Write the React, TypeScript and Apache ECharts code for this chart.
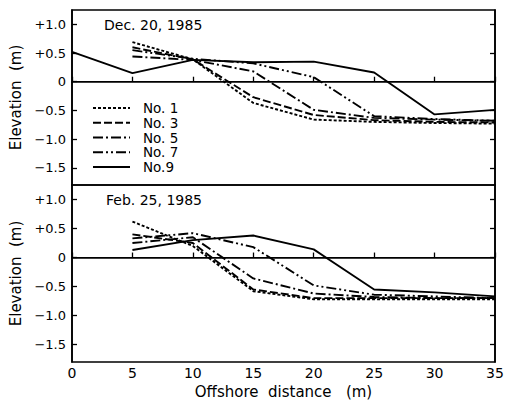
import React, { useEffect, useRef } from "react";
import * as echarts from "echarts";

// Offshore distance (m)
const distFrom0 = [0, 5, 10, 15, 20, 25, 30, 35];
const distFrom5 = [5, 10, 15, 20, 25, 30, 35];

// Dec. 20, 1985 elevations (m)
const decNo1 = [0.69, 0.39, -0.37, -0.66, -0.7, -0.72, -0.73];
const decNo3 = [0.6, 0.39, -0.27, -0.58, -0.67, -0.7, -0.71];
const decNo5 = [0.44, 0.38, 0.18, -0.49, -0.63, -0.66, -0.68];
const decNo7 = [0.55, 0.4, 0.32, 0.08, -0.6, -0.65, -0.68];
const decNo9 = [0.52, 0.15, 0.38, 0.34, 0.35, 0.16, -0.57, -0.49];

// Feb. 25, 1985 elevations (m)
const febNo1 = [0.62, 0.2, -0.58, -0.72, -0.72, -0.72, -0.72];
const febNo3 = [0.4, 0.25, -0.55, -0.7, -0.7, -0.7, -0.7];
const febNo5 = [0.25, 0.35, -0.36, -0.62, -0.68, -0.7, -0.7];
const febNo7 = [0.33, 0.42, 0.18, -0.48, -0.64, -0.67, -0.7];
const febNo9 = [0.13, 0.3, 0.38, 0.14, -0.55, -0.6, -0.67];

const seriesNames = ["No. 1", "No. 3", "No. 5", "No. 7", "No.9"];
const dashTypes: any[] = [
  [3, 2],
  [8, 3],
  [10, 3, 2, 3],
  [10, 3, 2, 3, 2, 3],
  "solid",
];
const yTicks = [-1.5, -1, -0.5, 0, 0.5, 1];
const panelTitles = ["Dec. 20, 1985", "Feb. 25, 1985"];

const FONT = "DejaVu Sans";

function zip(xs: number[], ys: number[]) {
  return ys.map((y, i) => [xs[i], y]);
}

function fmtY(v: number) {
  if (Math.abs(v) < 1e-9) return "0";
  const s = Math.abs(v).toFixed(1);
  return v > 0 ? "+" + s : "\u2212" + s;
}

export default function App() {
  const ref = useRef<HTMLDivElement>(null);
  useEffect(() => {
    if (!ref.current) return;
    const chart = echarts.init(ref.current, null, { renderer: "svg" });

    const tickStyle = { inside: true, length: 5, lineStyle: { color: "#000", width: 1.3 } };
    const axisLine = { show: true, lineStyle: { color: "#000", width: 1.6 } };
    const labelStyle = { color: "#000", fontFamily: FONT, fontSize: 13 };

    const yAxisLeft = (gridIndex: number) => ({
      type: "value",
      gridIndex,
      position: "left",
      min: -1.8,
      max: 1.25,
      splitLine: { show: false },
      axisLine,
      axisTick: { ...tickStyle, customValues: yTicks },
      axisLabel: { ...labelStyle, margin: 6, customValues: yTicks, formatter: (v: number) => fmtY(v) },
      name: "Elevation  (m)",
      nameLocation: "middle",
      nameGap: 39,
      nameTextStyle: { color: "#000", fontFamily: FONT, fontSize: 15 },
    });
    const yAxisRight = (gridIndex: number) => ({
      type: "value",
      gridIndex,
      position: "right",
      min: -1.8,
      max: 1.25,
      splitLine: { show: false },
      axisLine,
      axisTick: { ...tickStyle, customValues: yTicks },
      axisLabel: { show: false },
    });

    const mkSeries = (gridIdx: number, datasets: number[][][]) =>
      datasets.map((d, i) => ({
        type: "line",
        name: seriesNames[i],
        xAxisIndex: gridIdx,
        yAxisIndex: gridIdx * 2,
        data: d,
        symbol: "none",
        showSymbol: false,
        lineStyle: { color: "#000", width: 1.9, type: dashTypes[i] },
        itemStyle: { color: "#000" },
        z: 3,
        ...(i === 0
          ? {
              markLine: {
                silent: true,
                symbol: "none",
                label: { show: false },
                lineStyle: { color: "#000", width: 1, type: "solid" },
                data: [{ yAxis: 0 }],
              },
            }
          : {}),
      }));

    const topData = [
      zip(distFrom5, decNo1),
      zip(distFrom5, decNo3),
      zip(distFrom5, decNo5),
      zip(distFrom5, decNo7),
      zip(distFrom0, decNo9),
    ];
    const botData = [
      zip(distFrom5, febNo1),
      zip(distFrom5, febNo3),
      zip(distFrom5, febNo5),
      zip(distFrom5, febNo7),
      zip(distFrom5, febNo9),
    ];

    chart.setOption({
      animation: false,
      backgroundColor: "#fff",
      textStyle: { fontFamily: FONT },
      title: [
        { text: panelTitles[0], left: 104, top: 18, padding: 0, textStyle: { color: "#000", fontFamily: FONT, fontSize: 14, fontWeight: "normal" } },
        { text: panelTitles[1], left: 106, top: 193, padding: 0, textStyle: { color: "#000", fontFamily: FONT, fontSize: 14, fontWeight: "normal" } },
      ],
      legend: {
        data: seriesNames,
        orient: "vertical",
        left: 92,
        top: 101,
        padding: 0,
        itemWidth: 37,
        itemHeight: 10,
        itemGap: 0.5,
        itemStyle: { color: "transparent", borderColor: "transparent", borderWidth: 0, opacity: 0 },
        textStyle: { color: "#000", fontFamily: FONT, fontSize: 13.5, lineHeight: 14.2, padding: [0, 0, 0, 8] },
        inactiveColor: "#000",
      },
      grid: [
        { left: 72, right: 17, top: 10, height: 175, show: true, borderColor: "#000", borderWidth: 1.6 },
        { left: 72, right: 17, top: 185, height: 177, show: true, borderColor: "#000", borderWidth: 1.6 },
      ],
      xAxis: [
        {
          type: "value",
          gridIndex: 0,
          min: 0,
          max: 35,
          interval: 5,
          splitLine: { show: false },
          axisLine,
          axisTick: tickStyle,
          axisLabel: { show: false },
        },
        {
          type: "value",
          gridIndex: 1,
          min: 0,
          max: 35,
          interval: 5,
          splitLine: { show: false },
          axisLine,
          axisTick: tickStyle,
          axisLabel: { ...labelStyle, fontSize: 14, margin: 4 },
          name: "Offshore  distance   (m)",
          nameLocation: "middle",
          nameGap: 22,
          nameTextStyle: { color: "#000", fontFamily: FONT, fontSize: 15 },
        },
      ],
      yAxis: [yAxisLeft(0), yAxisRight(0), yAxisLeft(1), yAxisRight(1)],
      series: [...mkSeries(0, topData), ...mkSeries(1, botData)],
    });

    return () => chart.dispose();
  }, []);

  return <div ref={ref} style={{ width: 512, height: 400, marginLeft: -8, marginTop: -8 }} />;
}
